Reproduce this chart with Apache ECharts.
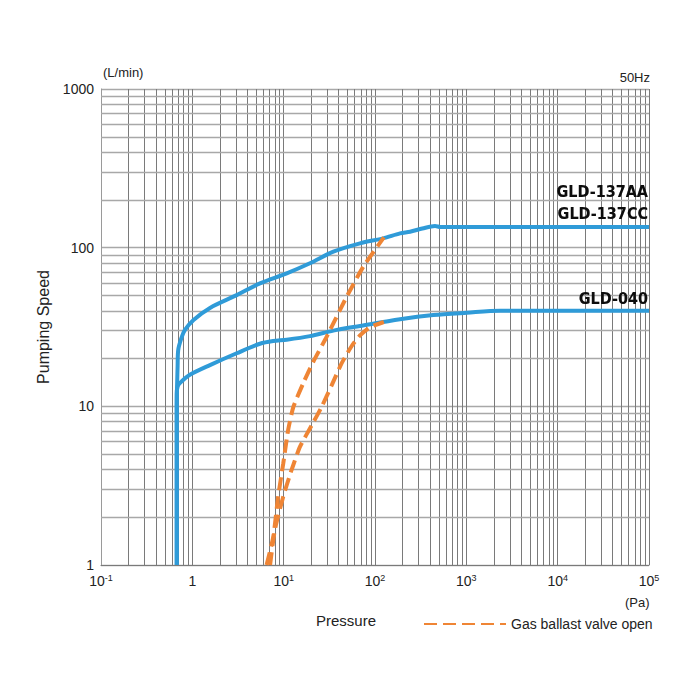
<!DOCTYPE html>
<html>
<head>
<meta charset="utf-8">
<title>Pumping Speed</title>
<script src="https://cdn.jsdelivr.net/npm/echarts@6/dist/echarts.min.js"></script>
<style>
  html, body { margin: 0; padding: 0; background: #fff; }
  #chart { width: 700px; height: 700px; }
</style>
</head>
<body>
<div id="chart"></div>
<script>
// 数据
// GLD-137AA / GLD-137CC
const gld137P = [0.675, 0.675, 0.69, 0.70, 0.76, 0.83, 1.03, 1.56, 3.06, 5.5, 10.8, 19.4, 35, 68.5, 123, 188, 242, 330, 454, 520, 100000];
const gld137S = [1, 10, 18, 22.6, 27, 30.3, 35, 41.7, 50.2, 59.6, 68.9, 79.7, 94.3, 106.5, 114.5, 123, 126, 132, 137, 135, 135];
// GLD-040
const gld040P = [0.675, 0.675, 0.69, 0.73, 0.94, 1.56, 3.06, 5.5, 7.66, 10.8, 19.4, 35, 68.5, 188, 435, 1010, 2340, 100000];
const gld040S = [1, 12, 13.3, 14, 15.8, 18.2, 21.6, 24.8, 25.8, 26.3, 27.7, 30, 32.1, 35.4, 37.6, 38.9, 40, 40];
// 气镇阀打开 (虚线)
const gas137P = [6.5, 7.7, 8.7, 9.9, 11.2, 12.8, 16.4, 21.1, 29.6, 49, 74.5, 125];
const gas137S = [1, 1.51, 2.7, 4.37, 7.1, 9.95, 14, 19.1, 27.5, 49.1, 75.9, 116];
const gas040P = [7.1, 8.0, 9.9, 12.2, 15.1, 20.3, 26.1, 33.6, 43.2, 55.6, 68.5, 88, 125];
const gas040S = [1, 1.66, 2.7, 3.97, 5.57, 7.6, 9.95, 13.6, 18.7, 24, 28, 31.5, 34];

// 刻度
const xDecades = [-1, 0, 1, 2, 3, 4];   // 10^n, 每个十进制内画 2..9 的细线
const yDecades = [0, 1, 2];
const minorSteps = [2, 3, 4, 5, 6, 7, 8, 9];
const yTickLabels = ['1', '10', '100', '1000'];

const zip = (a, b) => a.map((v, i) => [v, b[i]]);

const BLUE = '#2f9bd8';
const ORANGE = '#ef8535';
const FONT = 'Liberation Sans';
const TAG_FONT = 'DejaVu Sans Condensed';

// 对数坐标的细分网格线
let xMinor = [], yMinor = [];
xDecades.forEach(n => minorSteps.forEach(k => xMinor.push({ xAxis: k * Math.pow(10, n) })));
yDecades.forEach(n => minorSteps.forEach(k => yMinor.push({ yAxis: k * Math.pow(10, n) })));

const tag = function (text, top) {
    return {
        type: 'text', right: 52, top: top, z: 100,
        style: {
            text: text, fontSize: 16, fontWeight: 'bold', fontFamily: TAG_FONT,
            fill: '#111', textShadowColor: 'rgba(0,0,0,0.3)', textShadowBlur: 1
        }
    };
};

const myChart = echarts.init(document.getElementById('chart'), null, { renderer: 'svg' });

const option = {
    animation: false,
    textStyle: { fontFamily: FONT },
    grid: { left: 101, right: 51, top: 89, bottom: 135 },
    legend: {
        left: 418, top: 612,
        itemWidth: 82, itemHeight: 14, itemGap: 10,
        itemStyle: { opacity: 0 },
        textStyle: { fontSize: 14, color: '#222', fontFamily: FONT },
        data: ['Gas ballast valve open']
    },
    xAxis: {
        type: 'log', logBase: 10, min: 0.1, max: 100000,
        axisLine: { show: true, lineStyle: { color: '#7a7a7a', width: 1 } },
        axisTick: { show: false },
        axisLabel: {
            margin: 8, color: '#222', fontSize: 14,
            formatter: function (v) {
                let e = Math.round(Math.log10(v));
                if (e === 0) return '{b|1}';
                return '{b|10}{s|' + e + '}';
            },
            rich: {
                b: { fontSize: 14, color: '#222', fontFamily: FONT, lineHeight: 16 },
                s: { fontSize: 9, color: '#222', fontFamily: FONT, verticalAlign: 'top', lineHeight: 16, padding: [0, 0, 6, 0] }
            }
        },
        splitLine: { show: true, lineStyle: { color: '#7a7a7a', width: 1 } }
    },
    yAxis: {
        type: 'log', logBase: 10, min: 1, max: 1000,
        name: 'Pumping Speed', nameLocation: 'middle', nameGap: 38, nameRotate: 90,
        nameTextStyle: { fontSize: 16, color: '#222', fontFamily: FONT },
        axisLine: { show: true, lineStyle: { color: '#9a9a9a', width: 1 } },
        axisTick: { show: false },
        axisLabel: {
            margin: 7, color: '#222', fontSize: 14,
            formatter: function (v) {
                return yTickLabels[Math.round(Math.log10(v))];
            }
        },
        splitLine: { show: true, lineStyle: { color: '#a8a8a8', width: 1.4 } }
    },
    graphic: [
        { type: 'text', left: 103, top: 66, style: { text: '(L/min)', fontSize: 13, fill: '#222', fontFamily: FONT } },
        { type: 'text', right: 50, top: 71, style: { text: '50Hz', fontSize: 13, fill: '#222', fontFamily: FONT } },
        { type: 'text', left: 625, top: 596, style: { text: '(Pa)', fontSize: 13, fill: '#222', fontFamily: FONT } },
        { type: 'text', left: 316, top: 613, style: { text: 'Pressure', fontSize: 15, fill: '#222', fontFamily: FONT } },
        tag('GLD-137AA', 183),
        tag('GLD-137CC', 205),
        tag('GLD-040', 290)
    ],
    series: [
        {
            name: 'gridX', type: 'line', data: [], silent: true,
            markLine: {
                silent: true, symbol: 'none', label: { show: false },
                lineStyle: { color: '#7a7a7a', width: 1, type: 'solid' },
                data: xMinor
            }
        },
        {
            name: 'gridY', type: 'line', data: [], silent: true,
            markLine: {
                silent: true, symbol: 'none', label: { show: false },
                lineStyle: { color: '#a8a8a8', width: 1.4, type: 'solid' },
                data: yMinor
            }
        },
        {
            name: 'GLD-137', type: 'line', symbol: 'none', smooth: 0.3, z: 5,
            lineStyle: { color: BLUE, width: 4 },
            data: zip(gld137P, gld137S)
        },
        {
            name: 'GLD-040', type: 'line', symbol: 'none', smooth: 0.3, z: 5,
            lineStyle: { color: BLUE, width: 4 },
            data: zip(gld040P, gld040S)
        },
        {
            name: 'Gas ballast valve open', type: 'line', symbol: 'none', smooth: 0.2, z: 6,
            itemStyle: { color: ORANGE },
            lineStyle: { color: ORANGE, width: 4, type: [13, 6] },
            data: zip(gas137P, gas137S)
        },
        {
            name: 'Gas ballast valve open', type: 'line', symbol: 'none', smooth: 0.2, z: 6,
            itemStyle: { color: ORANGE },
            lineStyle: { color: ORANGE, width: 4, type: [13, 6] },
            data: zip(gas040P, gas040S)
        }
    ]
};

myChart.setOption(option);
</script>
</body>
</html>
